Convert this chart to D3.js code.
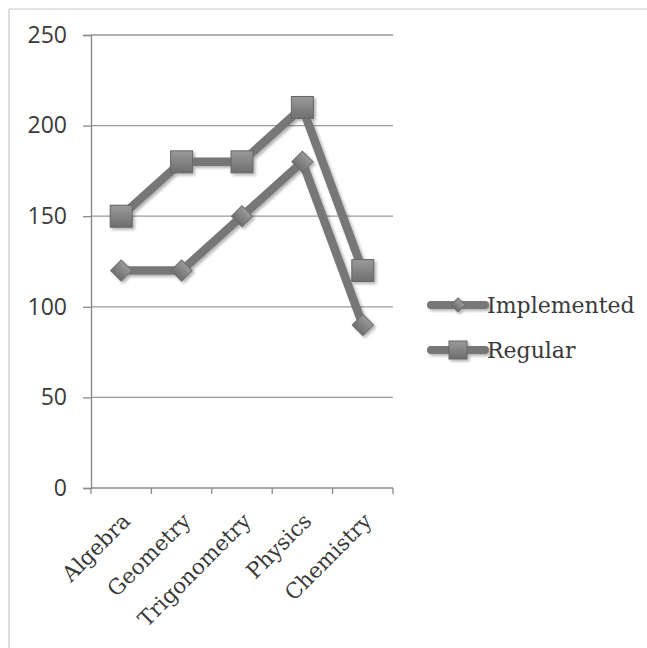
<!DOCTYPE html>
<html>
<head>
<meta charset="utf-8">
<script src="https://cdn.jsdelivr.net/npm/d3@7"></script>
<style>
  html, body { margin: 0; padding: 0; background: #fff; }
  svg { display: block; }
</style>
</head>
<body>
<div id="chart"></div>
<script>
// Scores per subject for the two groups
const categories = ["Algebra", "Geometry", "Trigonometry", "Physics", "Chemistry"];
const implemented = [120, 120, 150, 180, 90];
const regular = [150, 180, 180, 210, 120];
const yTicks = [0, 50, 100, 150, 200, 250];
const seriesNames = ["Implemented", "Regular"];

const W = 647, H = 648;
const plot = { left: 91, right: 393, top: 35, bottom: 488 };

const svg = d3.select("#chart").append("svg")
  .attr("width", W).attr("height", H);

const defs = svg.append("defs");
const shadow = defs.append("filter").attr("id", "shadow")
  .attr("x", "-20%").attr("y", "-20%").attr("width", "140%").attr("height", "140%");
shadow.append("feGaussianBlur").attr("in", "SourceAlpha").attr("stdDeviation", 1.6).attr("result", "b");
shadow.append("feOffset").attr("in", "b").attr("dx", 1.5).attr("dy", 2).attr("result", "o");
shadow.append("feComponentTransfer").attr("in", "o").attr("result", "s")
  .append("feFuncA").attr("type", "linear").attr("slope", 0.3);
const merge = shadow.append("feMerge");
merge.append("feMergeNode").attr("in", "s");
merge.append("feMergeNode").attr("in", "SourceGraphic");

const grad = defs.append("linearGradient").attr("id", "markerFill")
  .attr("x1", 0).attr("y1", 0).attr("x2", 0).attr("y2", 1);
grad.append("stop").attr("offset", "0%").attr("stop-color", "#9a9a9a");
grad.append("stop").attr("offset", "100%").attr("stop-color", "#6e6e6e");

// Frame edges
svg.append("line").attr("x1", 9).attr("y1", 9).attr("x2", W).attr("y2", 9)
  .attr("stroke", "#c8c8c8").attr("stroke-width", 1.2);
svg.append("line").attr("x1", 9).attr("y1", 9).attr("x2", 9).attr("y2", H)
  .attr("stroke", "#c8c8c8").attr("stroke-width", 1.2);

const x = d3.scaleBand().domain(categories).range([plot.left, plot.right]).padding(0);
const y = d3.scaleLinear().domain([0, 250]).range([plot.bottom, plot.top]);
const cx = d => x(d) + x.bandwidth() / 2;

// Horizontal gridlines
svg.append("g").selectAll("line").data(yTicks.filter(t => t > 0)).join("line")
  .attr("x1", plot.left).attr("x2", plot.right)
  .attr("y1", d => y(d)).attr("y2", d => y(d))
  .attr("stroke", "#9a9a9a").attr("stroke-width", 1.3);

// Y axis
const yAxis = svg.append("g").attr("transform", `translate(${plot.left},0)`)
  .call(d3.axisLeft(y).tickValues(yTicks).tickSize(8).tickPadding(16));
yAxis.select(".domain").attr("stroke", "#8a8a8a").attr("stroke-width", 1.4);
yAxis.selectAll(".tick line").attr("stroke", "#8a8a8a").attr("stroke-width", 1.3);
yAxis.selectAll(".tick text")
  .attr("fill", "#3a3a3a").attr("font-family", "'Open Sans', sans-serif")
  .attr("font-size", 23).attr("font-weight", 500);

// X axis with boundary ticks between categories
const xAxis = svg.append("g").attr("transform", `translate(0,${plot.bottom})`);
xAxis.append("line").attr("x1", plot.left).attr("x2", plot.right)
  .attr("stroke", "#8a8a8a").attr("stroke-width", 1.4);
const bounds = categories.map(c => x(c)).concat([plot.right]);
xAxis.selectAll("line.tk").data(bounds).join("line").attr("class", "tk")
  .attr("x1", d => d).attr("x2", d => d).attr("y1", 0).attr("y2", 6)
  .attr("stroke", "#8a8a8a").attr("stroke-width", 1.3);
xAxis.selectAll("text").data(categories).join("text")
  .attr("transform", d => `translate(${cx(d) - 1},${23}) rotate(-45)`)
  .attr("text-anchor", "end").attr("dy", "0.75em")
  .attr("fill", "#3a3a3a").attr("font-family", "'DejaVu Serif', serif")
  .attr("font-size", 21.5)
  .text(d => d);

const line = d3.line().x((d, i) => cx(categories[i])).y(d => y(d));
const lineColor = "#777";

function drawSeries(values, shape) {
  const g = svg.append("g").attr("filter", "url(#shadow)");
  g.append("path").datum(values).attr("d", line)
    .attr("fill", "none").attr("stroke", lineColor)
    .attr("stroke-width", 8.5).attr("stroke-linejoin", "round");
  if (shape === "square") {
    const s = 22;
    g.selectAll("rect").data(values).join("rect")
      .attr("x", (d, i) => cx(categories[i]) - s / 2).attr("y", d => y(d) - s / 2)
      .attr("width", s).attr("height", s)
      .attr("fill", "url(#markerFill)").attr("stroke", "#666").attr("stroke-width", 1);
  } else {
    const s = 15;
    g.selectAll("rect").data(values).join("rect")
      .attr("x", -s / 2).attr("y", -s / 2).attr("width", s).attr("height", s)
      .attr("transform", (d, i) => `translate(${cx(categories[i])},${y(d)}) rotate(45)`)
      .attr("fill", "url(#markerFill)").attr("stroke", "#707070").attr("stroke-width", 1);
  }
}
drawSeries(implemented, "diamond");
drawSeries(regular, "square");

// Legend
const legend = svg.append("g");
const legendRows = [
  { name: seriesNames[0], shape: "diamond", y: 305 },
  { name: seriesNames[1], shape: "square", y: 350 }
];
legendRows.forEach(r => {
  const g = legend.append("g").attr("filter", "url(#shadow)");
  g.append("line").attr("x1", 431).attr("x2", 485).attr("y1", r.y).attr("y2", r.y)
    .attr("stroke", lineColor).attr("stroke-width", 8).attr("stroke-linecap", "round");
  if (r.shape === "square") {
    g.append("rect").attr("x", 449).attr("y", r.y - 9).attr("width", 18).attr("height", 18)
      .attr("fill", "url(#markerFill)").attr("stroke", "#666").attr("stroke-width", 1);
  } else {
    g.append("rect").attr("x", -5).attr("y", -5).attr("width", 10).attr("height", 10)
      .attr("transform", `translate(458,${r.y}) rotate(45)`)
      .attr("fill", "url(#markerFill)").attr("stroke", "#707070").attr("stroke-width", 1);
  }
  legend.append("text").attr("x", 487).attr("y", r.y).attr("dy", "0.35em")
    .attr("fill", "#3a3a3a").attr("font-family", "'DejaVu Serif', serif")
    .attr("font-size", 22).text(r.name);
});
</script>
</body>
</html>
